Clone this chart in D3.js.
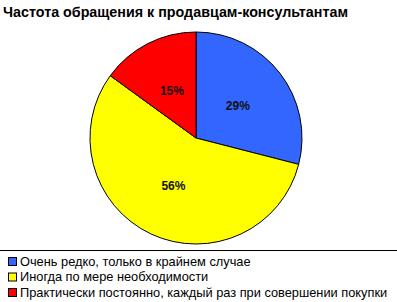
<!DOCTYPE html>
<html>
<head>
<meta charset="utf-8">
<script src="https://d3js.org/d3.v7.min.js"></script>
<style>
  body { margin: 0; background: #fff; }
  text { font-family: "Liberation Sans", Arial, sans-serif; }
  .title { font-size: 14.3px; font-weight: bold; }
  .pct { font-size: 12px; font-weight: bold; fill: #111; }
  .legend-label { font-size: 12.8px; fill: #000; }
</style>
</head>
<body>
<div id="chart"></div>
<script>
  // Data
  const labels = [
    'Очень редко, только в крайнем случае',
    'Иногда по мере необходимости',
    'Практически постоянно, каждый раз при совершении покупки'
  ];
  const values = [29, 56, 15];
  const colors = ['#3366ff', '#ffff00', '#ff0000'];

  const width = 397;
  const height = 302;
  const radius = 106;
  const cx = 196, cy = 138;

  const svg = d3.select('#chart')
    .append('svg')
    .attr('width', width)
    .attr('height', height);

  svg.append('text')
    .attr('class', 'title')
    .attr('x', 3)
    .attr('y', 17)
    .text('Частота обращения к продавцам-консультантам');

  const pie = d3.pie().sort(null).value(d => d);
  const arc = d3.arc().innerRadius(0).outerRadius(radius);
  const labelArc = d3.arc().innerRadius(radius * 0.5).outerRadius(radius * 0.5);

  const g = svg.append('g')
    .attr('transform', `translate(${cx}, ${cy})`);

  g.selectAll('path')
    .data(pie(values))
    .enter()
    .append('path')
    .attr('d', arc)
    .attr('fill', (d, i) => colors[i])
    .attr('stroke', '#000')
    .attr('stroke-width', 1);

  g.selectAll('text')
    .data(pie(values))
    .enter()
    .append('text')
    .attr('class', 'pct')
    .attr('transform', d => `translate(${labelArc.centroid(d)})`)
    .attr('text-anchor', 'middle')
    .attr('dy', '0.35em')
    .text(d => d.data + '%');

  // separator above the legend
  svg.append('line')
    .attr('x1', 0).attr('x2', width)
    .attr('y1', 250.5).attr('y2', 250.5)
    .attr('stroke', '#000');

  const legend = svg.selectAll('.legend')
    .data(labels)
    .enter()
    .append('g')
    .attr('class', 'legend')
    .attr('transform', (d, i) => `translate(8, ${257 + i * 15.5})`);

  legend.append('rect')
    .attr('x', 0.5).attr('y', 0.5)
    .attr('width', 8).attr('height', 8)
    .attr('fill', (d, i) => colors[i])
    .attr('stroke', '#000');

  legend.append('text')
    .attr('class', 'legend-label')
    .attr('x', 12)
    .attr('y', 4.5)
    .attr('dy', '0.35em')
    .text(d => d);
</script>
</body>
</html>
